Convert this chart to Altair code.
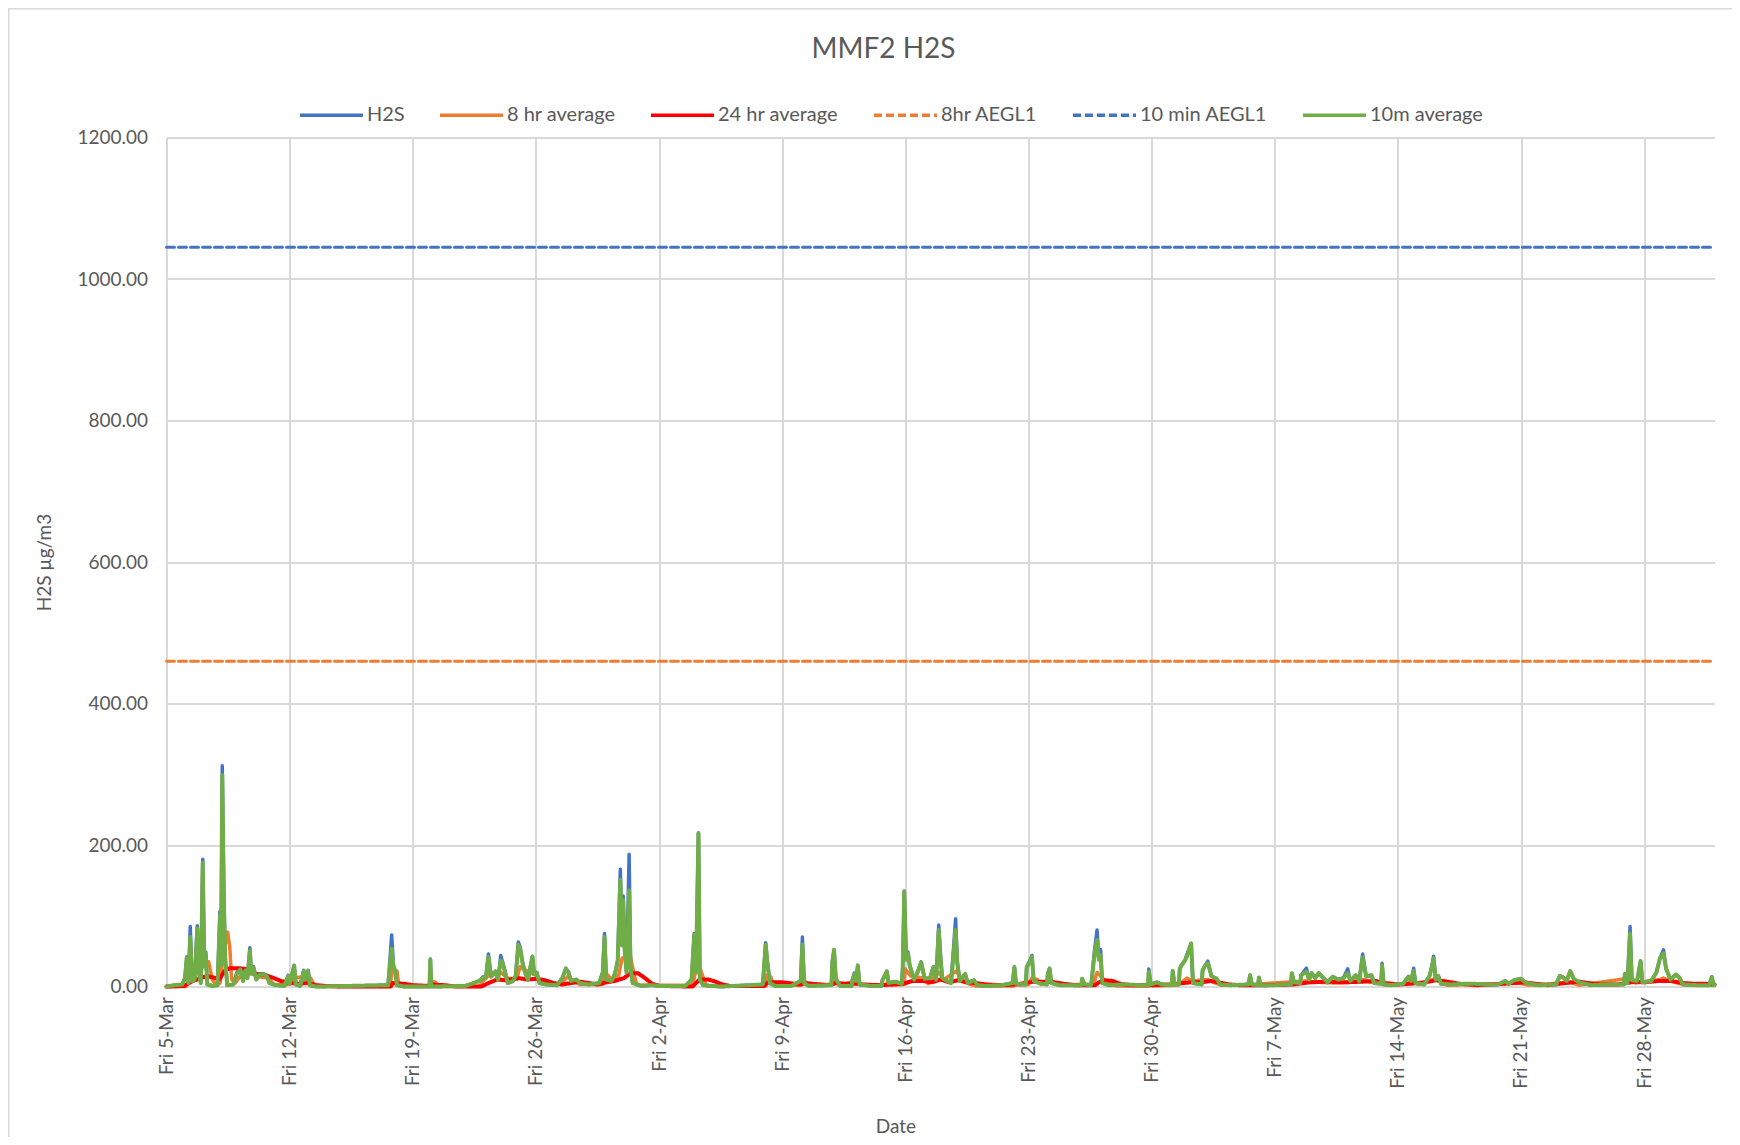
import altair as alt
import pandas as pd

# ---------------- data ----------------
series_names = ["H2S", "8 hr average", "24 hr average", "8hr AEGL1", "10 min AEGL1", "10m average"]
series_colors = ["#4472C4", "#ED7D31", "#FF0000", "#ED7D31", "#4472C4", "#70AD47"]

start_date = "2021-03-05"
end_date = "2021-06-01"
friday_ticks = ["2021-03-05", "2021-03-12", "2021-03-19", "2021-03-26", "2021-04-02",
                "2021-04-09", "2021-04-16", "2021-04-23", "2021-04-30", "2021-05-07",
                "2021-05-14", "2021-05-21", "2021-05-28"]

# (days after Fri 5-Mar 00:00, raw H2S, 10 minute average) -- kept as parallel lists
spike_days = [0.0, 0.45, 0.9, 1.05, 1.15, 1.25, 1.35, 1.45, 1.6, 1.75, 1.85, 1.95, 2.06, 2.15, 2.23,
              2.32, 2.6, 2.9, 3.04, 3.10, 3.17, 3.26, 3.34, 3.45, 3.8, 4.0, 4.2, 4.35, 4.5, 4.6,
              4.74, 4.82, 4.95, 5.1, 5.3, 5.5, 5.7, 5.85, 6.2, 6.7, 6.92, 7.0, 7.26, 7.35, 7.6,
              7.8, 7.9, 8.05, 8.15, 8.5, 10.5, 12.6, 12.8, 12.9, 13.0, 13.1, 13.5, 14.95, 15.0,
              15.05, 17.0, 17.8, 18.0, 18.15, 18.3, 18.45, 18.7, 18.85, 19.0, 19.1, 19.25, 19.4,
              19.7, 19.85, 20.0, 20.1, 20.25, 20.4, 20.55, 20.8, 20.9, 21.05, 21.2, 21.6, 22.2,
              22.5, 22.7, 22.85, 23.0, 23.3, 23.5, 24.0, 24.6, 24.8, 24.9, 25.0, 25.3, 25.5,
              25.65, 25.8, 25.9, 25.96, 26.05, 26.15, 26.3, 26.38, 26.5, 27.0, 27.6, 28.0, 29.5,
              29.85, 30.0, 30.1, 30.24, 30.32, 30.5, 31.5, 33.9, 34.06, 34.15, 34.3, 34.6, 35.5,
              36.05, 36.15, 36.25, 36.5, 37.8, 37.85, 37.95, 38.05, 38.3, 38.95, 39.0, 39.1, 39.2,
              39.3, 39.4, 40.0, 40.65, 40.7, 40.95, 41.05, 41.4, 41.8, 41.85, 41.94, 42.05, 42.15,
              42.25, 42.5, 42.7, 42.9, 43.1, 43.4, 43.6, 43.75, 43.9, 44.0, 44.1, 44.3, 44.6, 44.86,
              44.95, 45.1, 45.4, 45.55, 45.9, 46.1, 46.6, 47.5, 48.1, 48.2, 48.3, 48.85, 48.9, 49.1,
              49.2, 49.3, 49.6, 50.05, 50.1, 50.2, 50.3, 50.8, 52.0, 52.05, 52.2, 52.55, 52.6,
              52.76, 52.9, 53.0, 53.1, 53.2, 53.6, 54.5, 55.4, 55.8, 55.84, 55.95, 56.3, 56.6,
              57.15, 57.2, 57.3, 57.55, 57.6, 57.7, 57.9, 58.0, 58.25, 58.35, 58.85, 58.9, 59.05,
              59.2, 59.4, 59.7, 59.9, 60.5, 61.5, 61.6, 61.7, 62.05, 62.1, 62.2, 63.0, 63.5, 63.92,
              63.97, 64.1, 64.45, 64.5, 64.8, 64.95, 65.1, 65.3, 65.5, 65.7, 66.0, 66.3, 66.6, 66.9,
              67.15, 67.3, 67.6, 67.8, 68.0, 68.2, 68.5, 68.65, 69.05, 69.1, 69.2, 69.6, 70.3, 70.6,
              70.75, 70.9, 71.0, 71.5, 71.8, 71.95, 72.03, 72.15, 72.3, 72.45, 73.0, 73.8, 74.3,
              75.0, 75.7, 76.1, 76.3, 76.6, 77.0, 77.3, 78.0, 79.0, 79.2, 79.4, 79.6, 79.8, 80.0,
              80.3, 81.0, 82.0, 82.85, 82.9, 83.05, 83.2, 83.3, 83.6, 83.8, 83.9, 84.4, 84.7, 84.9,
              85.1, 85.25, 85.5, 85.8, 86.0, 86.2, 87.0, 87.7, 87.85, 87.95, 88.0]

h2s_values = [0, 2, 3, 12, 42, 5, 85, 8, 12, 86, 20, 5, 180, 30, 49,
              3, 1, 2, 106, 30, 312, 124, 40, 2, 3, 20, 26, 8, 25, 12,
              55, 18, 28, 10, 18, 18, 16, 5, 2, 1, 16, 4, 30, 3, 1,
              23, 10, 23, 2, 0, 1, 2, 73, 30, 23, 2, 0, 0, 39,
              0, 1, 8, 14, 12, 46, 15, 22, 10, 44, 35, 21, 5,
              8, 15, 63, 56, 33, 20, 10, 43, 19, 20, 5, 3, 2,
              12, 26, 21, 8, 10, 5, 3, 5, 20, 75, 10, 8, 20,
              37, 166, 60, 128, 51, 20, 187, 28, 5, 1, 2, 1, 1,
              10, 75, 20, 217, 10, 2, 0, 3, 62, 37, 5, 1, 1,
              8, 70, 5, 1, 2, 35, 52, 11, 1, 1, 10, 19, 8,
              30, 3, 1, 1, 9, 22, 5, 7, 4, 25, 135, 40, 49,
              30, 10, 21, 35, 11, 12, 28, 10, 87, 44, 12, 9, 5, 96,
              36, 8, 18, 5, 9, 2, 1, 2, 5, 28, 4, 3, 28, 38,
              44, 8, 5, 3, 18, 26, 5, 2, 2, 11, 3, 2, 10,
              52, 80, 40, 52, 5, 2, 3, 2, 2, 25, 3, 6, 3,
              2, 22, 3, 3, 25, 30, 37, 45, 61, 5, 3, 23, 30,
              36, 15, 11, 3, 2, 3, 16, 3, 2, 13, 2, 2, 3, 3,
              19, 6, 5, 16, 26, 10, 19, 12, 19, 14, 6, 14, 10, 12,
              25, 8, 16, 8, 46, 14, 16, 5, 4, 33, 3, 2, 4, 14,
              8, 26, 5, 3, 15, 30, 43, 10, 15, 4, 3, 4, 4,
              3, 3, 8, 4, 9, 11, 5, 2, 3, 15, 13, 8, 22, 11,
              6, 2, 3, 3, 18, 5, 85, 9, 8, 36, 6, 8, 20, 40,
              52, 25, 10, 17, 13, 3, 2, 2, 14, 3, 2]

avg10m_values = [0, 2, 3, 12, 40, 5, 70, 8, 10, 82, 18, 5, 175, 28, 47,
                 3, 1, 2, 100, 30, 299, 122, 38, 2, 3, 18, 24, 8, 23, 12,
                 51, 18, 26, 10, 17, 17, 15, 5, 2, 1, 15, 4, 29, 3, 1,
                 22, 10, 22, 2, 0, 1, 2, 54, 28, 22, 2, 0, 0, 38,
                 0, 1, 8, 13, 12, 42, 14, 21, 10, 37, 34, 20, 5,
                 8, 15, 59, 54, 32, 18, 10, 42, 18, 19, 5, 3, 2,
                 12, 25, 20, 8, 10, 5, 3, 5, 20, 70, 10, 8, 18,
                 36, 151, 58, 122, 49, 20, 136, 27, 5, 1, 2, 1, 1,
                 10, 73, 20, 217, 10, 2, 0, 3, 59, 36, 5, 1, 1,
                 8, 59, 5, 1, 2, 34, 52, 11, 1, 1, 10, 17, 8,
                 30, 3, 1, 1, 9, 21, 5, 7, 4, 25, 134, 38, 47,
                 30, 10, 20, 34, 11, 12, 27, 10, 80, 40, 12, 9, 5, 80,
                 33, 8, 18, 5, 9, 2, 1, 2, 5, 27, 4, 3, 27, 36,
                 42, 8, 5, 3, 18, 25, 5, 2, 2, 11, 3, 2, 10,
                 47, 66, 38, 44, 5, 2, 3, 2, 2, 21, 3, 6, 3,
                 2, 22, 3, 3, 25, 30, 37, 42, 61, 5, 3, 23, 30,
                 33, 15, 11, 3, 2, 3, 16, 3, 2, 13, 2, 2, 3, 3,
                 19, 6, 5, 16, 21, 10, 19, 12, 19, 14, 6, 14, 10, 12,
                 19, 8, 16, 8, 41, 14, 16, 5, 4, 30, 3, 2, 4, 14,
                 8, 22, 5, 3, 15, 30, 40, 10, 15, 4, 3, 4, 4,
                 3, 3, 8, 4, 9, 11, 5, 2, 3, 15, 13, 8, 22, 11,
                 6, 2, 3, 3, 17, 5, 75, 9, 8, 36, 6, 8, 20, 40,
                 47, 25, 10, 17, 13, 3, 2, 2, 13, 3, 2]

avg8_days = [0.0, 1.1, 1.2, 1.5, 1.8, 2.1, 2.4, 2.6, 2.8, 3.05, 3.2, 3.48, 3.6, 3.7, 3.9, 4.3, 4.8,
             5.2, 5.8, 6.1, 6.9, 7.3, 7.9, 8.2, 8.4, 8.6, 12.7, 12.85, 13.1, 13.2, 13.5, 14.95,
             15.05, 15.3, 15.4, 17.8, 18.0, 18.4, 19.0, 19.4, 19.9, 20.1, 20.5, 21.0, 21.3, 22.4,
             22.8, 23.1, 23.5, 24.8, 24.95, 25.3, 25.7, 25.9, 26.35, 26.6, 26.75, 29.9, 30.05,
             30.3, 30.55, 30.7, 34.0, 34.1, 34.35, 34.5, 36.1, 36.2, 36.4, 37.9, 38.0, 38.2, 39.3,
             39.5, 40.9, 41.0, 41.2, 41.9, 42.0, 42.3, 43.0, 43.3, 43.9, 44.2, 44.9, 45.2, 45.6,
             46.0, 48.15, 48.25, 48.5, 49.0, 49.2, 49.5, 49.7, 50.2, 50.6, 52.7, 52.9, 53.2, 53.6,
             54.0, 55.8, 55.9, 56.1, 57.5, 58.0, 58.3, 59.2, 59.5, 60.0, 61.0, 64.8, 65.5, 66.5,
             67.2, 68.0, 68.4, 69.1, 69.4, 70.9, 71.2, 72.1, 72.4, 72.8, 77.0, 77.4, 79.8, 80.3,
             83.2, 83.5, 84.9, 85.1, 85.5, 86.2, 88.0]
avg8_values = [0, 0, 5, 20, 25, 35, 35, 10, 3, 5, 40, 77, 55, 10, 5, 18, 20,
               14, 12, 3, 3, 12, 15, 12, 2, 0, 0, 25, 22, 3, 0, 0,
               8, 6, 0, 0, 8, 18, 20, 12, 10, 28, 22, 16, 5, 3,
               14, 8, 3, 3, 20, 10, 15, 40, 45, 15, 2, 2, 18,
               28, 10, 1, 1, 16, 14, 2, 2, 12, 3, 3, 10, 2, 8,
               2, 2, 6, 2, 3, 25, 15, 12, 4, 20, 10, 22, 9, 4,
               1, 1, 6, 2, 3, 12, 10, 3, 8, 3, 3, 20, 12, 5,
               1, 1, 4, 1, 2, 12, 8, 10, 6, 2, 2, 8, 6, 5,
               6, 10, 6, 6, 2, 6, 3, 11, 7, 2, 5, 2, 6, 2,
               12, 5, 10, 12, 8, 3, 2]

avg24_days = [0.0, 1.0, 1.5, 2.3, 2.8, 3.0, 3.3, 3.6, 4.0, 4.5, 5.0, 5.5, 6.0, 6.5, 7.0, 7.5, 8.0,
              8.5, 9.0, 10.0, 12.75, 12.85, 13.5, 14.0, 14.9, 15.1, 15.8, 16.5, 17.9, 18.3, 18.8,
              19.3, 20.0, 20.5, 21.0, 21.5, 22.0, 22.5, 23.0, 23.5, 24.0, 24.5, 25.0, 25.5, 26.0,
              26.4, 26.8, 27.2, 27.6, 28.0, 29.9, 30.3, 30.8, 31.2, 31.6, 32.0, 34.0, 34.2, 34.6,
              35.0, 35.4, 36.0, 36.3, 36.7, 37.2, 37.6, 38.1, 38.6, 39.2, 39.6, 40.5, 41.9, 42.4,
              43.0, 43.5, 44.0, 44.5, 45.0, 45.5, 46.0, 46.6, 47.4, 48.3, 48.8, 49.3, 49.8, 50.5,
              51.0, 51.6, 52.8, 53.0, 53.3, 53.8, 54.2, 54.7, 56.0, 57.0, 58.2, 58.8, 59.4, 59.8,
              60.4, 61.0, 62.5, 64.0, 65.0, 66.0, 67.0, 68.0, 68.7, 69.3, 70.0, 70.7, 71.5, 72.2,
              72.8, 73.5, 74.5, 76.0, 77.2, 77.8, 78.5, 79.5, 80.3, 80.8, 81.5, 82.5, 83.5, 84.0,
              84.8, 85.5, 86.2, 86.8, 87.5, 88.0]
avg24_values = [0, 1, 8, 15, 12, 10, 22, 26, 26, 25, 18, 17, 13, 8, 5, 4, 5,
                2, 1, 0, 0, 5, 4, 2, 1, 3, 2, 0, 0, 5, 10,
                9, 12, 10, 11, 9, 5, 3, 5, 7, 5, 3, 6, 8, 12,
                19, 19, 12, 4, 1, 0, 10, 10, 7, 3, 1, 1, 6, 6,
                6, 5, 3, 5, 4, 3, 2, 5, 4, 4, 3, 2, 4, 8,
                8, 6, 10, 6, 9, 6, 5, 3, 2, 3, 5, 7, 7, 6,
                4, 2, 2, 6, 9, 8, 4, 2, 2, 3, 6, 6, 8, 6,
                3, 2, 2, 3, 6, 7, 6, 7, 8, 5, 3, 4, 6, 9,
                7, 4, 2, 4, 6, 4, 2, 5, 7, 5, 3, 3, 7, 6,
                8, 8, 5, 4, 4, 3]

aegl1_8hr = 460
aegl1_10min = 1045

# ---------------- long table ----------------
t0 = pd.Timestamp(start_date)


def stamp(d):
    return (t0 + pd.Timedelta(days=d)).strftime("%Y-%m-%dT%H:%M:%S")


rows = []
for d, v in zip(spike_days, h2s_values):
    rows.append({"date": stamp(d), "value": v, "series": "H2S"})
for d, v in zip(avg8_days, avg8_values):
    rows.append({"date": stamp(d), "value": v, "series": "8 hr average"})
for d, v in zip(avg24_days, avg24_values):
    rows.append({"date": stamp(d), "value": v, "series": "24 hr average"})
for dt in [start_date, end_date]:
    rows.append({"date": dt + "T00:00:00", "value": aegl1_8hr, "series": "8hr AEGL1"})
    rows.append({"date": dt + "T00:00:00", "value": aegl1_10min, "series": "10 min AEGL1"})
for d, v in zip(spike_days, avg10m_values):
    rows.append({"date": stamp(d), "value": v, "series": "10m average"})
df = pd.DataFrame(rows)


def dt_obj(s):
    y, m, d = (int(p) for p in s.split("-"))
    return alt.DateTime(year=y, month=m, date=d)


FONT = "Lato"
TXT = "#595959"
W, H = 1548, 849

legend = alt.Legend(
    title=None, orient="none", legendX=131.5, legendY=-56, direction="horizontal",
    symbolType="stroke", symbolSize=3969, symbolStrokeWidth=3.5,
    labelFont=FONT, labelFontSize=20, labelColor=TXT, labelOffset=2,
    columnPadding=28, labelLimit=0,
)

x_enc = alt.X(
    "date:T",
    scale=alt.Scale(domain=[dt_obj(start_date), dt_obj(end_date)], nice=False),
    axis=alt.Axis(
        values=[dt_obj(s) for s in friday_ticks], format="%a %-d-%b", labelAngle=270,
        labelAlign="right", labelBaseline="middle", labelPadding=10, ticks=False,
        title="Date", titleX=729, titleY=140, titleAlign="center", titleBaseline="middle",
        labelOverlap=False, labelFlush=False,
    ),
)
y_enc = alt.Y(
    "value:Q",
    scale=alt.Scale(domain=[0, 1200], nice=False, zero=True),
    axis=alt.Axis(
        values=[0, 200, 400, 600, 800, 1000, 1200], format=".2f", ticks=False, labelPadding=19,
        title="H2S µg/m3", titleAngle=270, titleX=-122, titleY=H / 2, titleAlign="center",
        titleBaseline="middle",
    ),
)
color_enc = alt.Color("series:N", scale=alt.Scale(domain=series_names, range=series_colors), legend=legend)
dash_enc = alt.StrokeDash(
    "series:N",
    scale=alt.Scale(domain=series_names, range=[[1, 0], [1, 0], [1, 0], [8, 4], [8, 4], [1, 0]]),
    legend=legend,
)

widths = {"H2S": 3.5, "8 hr average": 3.5, "24 hr average": 4, "8hr AEGL1": 3,
          "10 min AEGL1": 3, "10m average": 4}

one = pd.DataFrame({"k": [0]})
border = alt.Chart(one).mark_rect(
    fillOpacity=0, stroke="#d9d9d9", strokeWidth=1.5
).encode(x=alt.value(-157.7), x2=alt.value(2000), y=alt.value(-128.8), y2=alt.value(1300))

title = alt.Chart(one).mark_text(
    text="MMF2 H2S", font=FONT, fontSize=28, color=TXT, align="center", baseline="alphabetic"
).encode(x=alt.value(717), y=alt.value(-79.3))

layers = [border, title]
for s in series_names:
    layers.append(
        alt.Chart(df)
        .transform_filter(alt.datum.series == s)
        .mark_line(strokeWidth=widths[s], strokeJoin="round", strokeCap="round")
        .encode(x=x_enc, y=y_enc, color=color_enc, strokeDash=dash_enc)
    )

chart = (
    alt.layer(*layers)
    .properties(
        width=W, height=H,
        autosize=alt.AutoSizeParams(type="none"),
        padding={"left": 158.5, "top": 129.6, "right": 17.5, "bottom": 150},
        background="white",
    )
    .configure_view(stroke=None)
    .configure_axis(
        gridColor="#d9d9d9", gridWidth=2, domainColor="#d9d9d9", domainWidth=2,
        labelFont=FONT, labelFontSize=19, labelColor=TXT,
        titleFont=FONT, titleFontSize=19, titleColor=TXT, titleFontWeight="normal",
    )
)

chart.save("out.html", embed_options={"renderer": "svg", "actions": False})
